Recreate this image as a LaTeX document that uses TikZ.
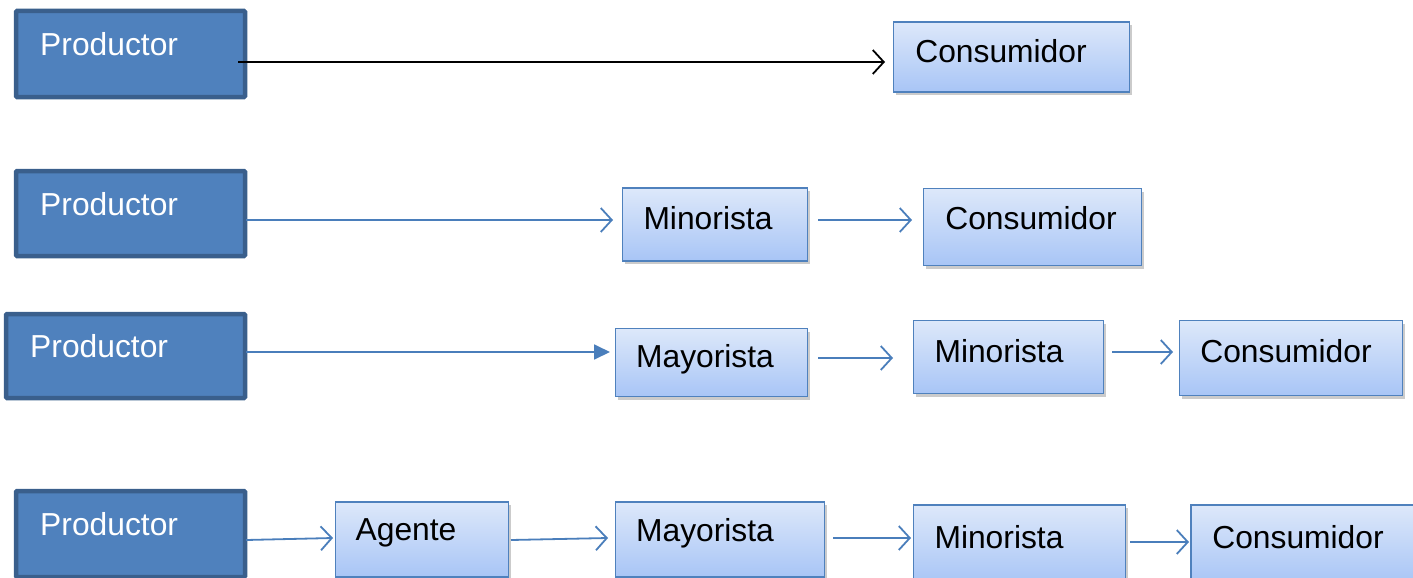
\documentclass[tikz,border=0pt]{standalone}
\usepackage{fontspec}
\setmainfont{Liberation Sans}
\usetikzlibrary{arrows.meta,shadows}
\definecolor{pfill}{HTML}{4F81BD}
\definecolor{pdraw}{HTML}{3A5F8C}
\definecolor{lborder}{HTML}{4F81BD}
\definecolor{ltop}{HTML}{DDE8FA}
\definecolor{lbot}{HTML}{A8C5F6}
\definecolor{arr}{HTML}{4A7EBB}
\tikzset{
  pbox/.style={draw=pdraw, line width=4.5pt, fill=pfill, rounded corners=1pt, inner sep=0pt},
  lbox/.style={draw=lborder, line width=1.8pt, top color=ltop, bottom color=lbot, inner sep=0pt,
    drop shadow={shadow xshift=2.5pt, shadow yshift=-3pt, fill=black!45, opacity=.45}},
  ptext/.style={anchor=west, text=white, font=\fontsize{31.8}{36}\selectfont, inner sep=0pt},
  ltext/.style={anchor=center, text=black, font=\fontsize{31.8}{36}\selectfont, inner sep=0pt},
  barrow/.style={line width=1.8pt, draw=arr, -{Straight Barb[length=11pt,width=24pt,line width=1.8pt]}},
  karrow/.style={line width=1.8pt, draw=black, -{Straight Barb[length=11pt,width=24pt,line width=1.8pt]}},
  farrow/.style={line width=1.8pt, draw=arr, -{Triangle[length=16pt,width=15pt]}},
}
\begin{document}
\begin{tikzpicture}[x=1pt,y=-1pt]
\useasboundingbox (0,0) rectangle (1413,578);
% Row 1
\node[pbox, minimum width=229pt, minimum height=86pt] (p1) at (130.5,54) {};
\node[ptext] (p1t) at (40,44) {Productor};
\node[lbox, minimum width=236pt, minimum height=70pt] (c1) at (1011.5,57) {};
\node[ltext] (c1t) at (1001,51) {Consumidor};
\coordinate (s1) at (238,62);
\coordinate (e1) at (885,62);
\draw[karrow] (s1) -- (e1);
% Row 2
\node[pbox, minimum width=229pt, minimum height=85pt] (p2) at (130.5,213.5) {};
\node[ptext] (p2t) at (40,204) {Productor};
\node[lbox, minimum width=185pt, minimum height=73pt] (m2) at (715,224.5) {};
\node[ltext] (m2t) at (708,218) {Minorista};
\node[lbox, minimum width=218pt, minimum height=77pt] (c2) at (1032.5,227) {};
\node[ltext] (c2t) at (1031,218) {Consumidor};
\coordinate (r2a) at (246,220);
\coordinate (r2b) at (613,220);
\draw[barrow] (r2a) -- (r2b);
\coordinate (r2c) at (818,220);
\coordinate (r2d) at (912,220);
\draw[barrow] (r2c) -- (r2d);
% Row 3
\node[pbox, minimum width=239pt, minimum height=84pt] (p3) at (125.5,356) {};
\node[ptext] (p3t) at (30,346) {Productor};
\node[lbox, minimum width=192pt, minimum height=68pt] (y3) at (711.5,362.5) {};
\node[ltext] (y3t) at (705,359) {Mayorista};
\node[lbox, minimum width=190pt, minimum height=73pt] (m3) at (1008.5,357) {};
\node[ltext] (m3t) at (999,351) {Minorista};
\node[lbox, minimum width=223pt, minimum height=75pt] (c3) at (1291,358) {};
\node[ltext] (c3t) at (1286,351) {Consumidor};
% Row 4
\node[pbox, minimum width=229pt, minimum height=86pt] (p4) at (130.5,534) {};
\node[ptext] (p4t) at (40,524) {Productor};
\node[lbox, minimum width=173pt, minimum height=75pt] (a4) at (422,539.5) {};
\node[ltext] (a4t) at (406,533) {Agente};
\node[lbox, minimum width=209pt, minimum height=75pt] (y4) at (720,539.5) {};
\node[ltext] (y4t) at (705,533) {Mayorista};
\node[lbox, minimum width=212pt, minimum height=78pt] (m4) at (1019.5,544) {};
\node[ltext] (m4t) at (999,537) {Minorista};
\node[lbox, minimum width=224pt, minimum height=78pt] (c4) at (1303,544) {};
\node[ltext] (c4t) at (1298,537) {Consumidor};
% Row 3 arrows
\coordinate (r3a) at (246,352);
\coordinate (r3b) at (610,352);
\draw[farrow] (r3a) -- (r3b);
\coordinate (r3c) at (818,358);
\coordinate (r3d) at (893,358);
\draw[barrow] (r3c) -- (r3d);
\coordinate (r3e) at (1112,352);
\coordinate (r3f) at (1173,352);
\draw[barrow] (r3e) -- (r3f);
% Row 4 arrows
\coordinate (r4a) at (246,540);
\coordinate (r4b) at (333,538);
\draw[barrow] (r4a) -- (r4b);
\coordinate (r4c) at (511,540);
\coordinate (r4d) at (608,538);
\draw[barrow] (r4c) -- (r4d);
\coordinate (r4e) at (833,538);
\coordinate (r4f) at (911,538);
\draw[barrow] (r4e) -- (r4f);
\coordinate (r4g) at (1130,542);
\coordinate (r4h) at (1189,542);
\draw[barrow] (r4g) -- (r4h);
\end{tikzpicture}
\end{document}
